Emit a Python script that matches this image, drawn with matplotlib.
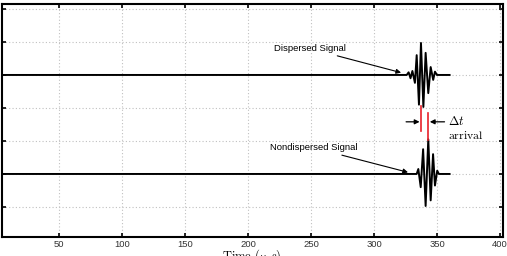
import matplotlib
matplotlib.use("Agg")
import matplotlib.pyplot as plt

plt.rcParams['font.family'] = ['Liberation Sans', 'DejaVu Sans']
plt.rcParams['mathtext.fontset'] = 'cm'

# Dispersed signal (offset 4): time (us) and amplitude
disp_t = [0, 326, 327.5, 329, 330.5, 332.5, 333.9, 335.7, 337.3, 339.2, 341, 343.1, 345, 347, 348.4, 350, 360]
disp_a = [0, 0, 0.08, -0.1, 0.12, -0.24, 0.6, -0.9, 0.97, -0.97, 0.67, -0.55, 0.24, -0.15, 0.1, 0, 0]
# Nondispersed signal (offset 1)
nond_t = [0, 333.9, 335.2, 337.1, 339, 341, 343.1, 345, 346.9, 348.4, 350.2, 351.5, 360]
nond_a = [0, 0, 0.15, -0.4, 0.75, -0.97, 1.05, -0.8, 0.6, -0.35, 0.1, 0, 0]
disp_offset = 4
nond_offset = 1

xticks = [50, 100, 150, 200, 250, 300, 350, 400]
yticks = [0, 1, 2, 3, 4, 5, 6]

fig = plt.figure(figsize=(5.07, 2.56), dpi=100)
ax = fig.add_axes([2/507, 19/256, 501/507, 233/256])

ax.plot(disp_t, [a + disp_offset for a in disp_a], color='black', lw=1.4, solid_joinstyle='round')
ax.plot(nond_t, [a + nond_offset for a in nond_a], color='black', lw=1.4, solid_joinstyle='round')

# arrival markers
ax.plot([337.3, 337.3], [2.3, 3.06], color='#e8202a', lw=1.2)
ax.plot([343.1, 343.1], [2.03, 2.85], color='#e8202a', lw=1.2)
ax.annotate('', xy=(336.2, 2.58), xytext=(325.5, 2.58),
            arrowprops=dict(arrowstyle='-|>', color='black', lw=0.9, mutation_scale=7, shrinkA=0, shrinkB=0))
ax.annotate('', xy=(344.3, 2.58), xytext=(356, 2.58),
            arrowprops=dict(arrowstyle='-|>', color='black', lw=0.9, mutation_scale=7, shrinkA=0, shrinkB=0))
ax.text(358.5, 2.6, r'$\Delta t$', fontsize=9, va='center', ha='left')
ax.text(358.5, 2.15, r'$\mathrm{arrival}$', fontsize=8.5, va='center', ha='left')

ax.annotate('Dispersed Signal', xy=(321.5, 4.07), xytext=(277.5, 4.8),
            fontsize=6.8, ha='right', va='center',
            arrowprops=dict(arrowstyle='-|>', color='black', lw=0.8, mutation_scale=7, shrinkA=0, shrinkB=0))
ax.annotate('Nondispersed Signal', xy=(327, 1.05), xytext=(287, 1.79),
            fontsize=6.8, ha='right', va='center',
            arrowprops=dict(arrowstyle='-|>', color='black', lw=0.8, mutation_scale=7, shrinkA=0, shrinkB=0))

ax.set_xlim(4.8, 402.4)
ax.set_ylim(-0.91, 6.15)
ax.set_xticks(xticks)
ax.set_xticklabels([str(v) for v in xticks])
ax.set_yticks(yticks)
ax.set_yticklabels([])
ax.grid(True, color='#c0c0c0', linestyle=(0, (1, 2)), lw=0.8)
ax.set_axisbelow(True)
ax.tick_params(direction='in', length=3, width=1.2, top=True, right=True,
               labelsize=6.8, pad=2, colors='black', labelcolor='#333333')
for s in ax.spines.values():
    s.set_linewidth(1.5)

fig.text(252/507, 1 - 247.5/256, r'$\mathrm{Time}\ (\mu\ s)$', fontsize=9, ha='center', va='top')

fig.savefig('out.png', dpi=100)
